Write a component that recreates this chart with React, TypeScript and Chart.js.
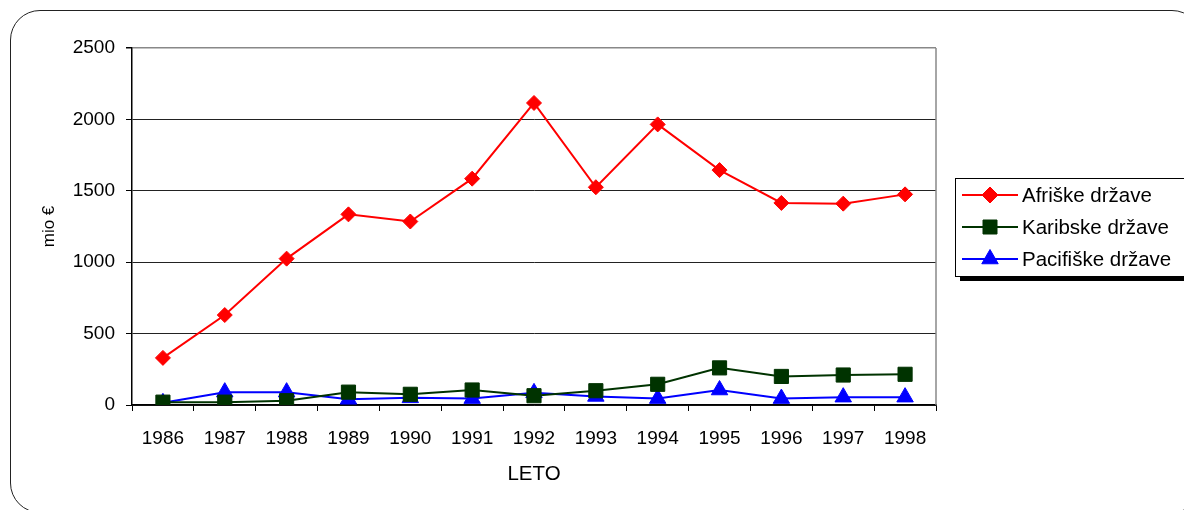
import React, { useEffect, useRef } from 'react';
import { Chart, registerables } from 'chart.js';

Chart.register(...registerables);

const years = ['1986', '1987', '1988', '1989', '1990', '1991', '1992', '1993', '1994', '1995', '1996', '1997', '1998'];
const afriske = [330, 630, 1025, 1335, 1285, 1585, 2115, 1525, 1965, 1645, 1415, 1410, 1475];
const karibske = [20, 20, 30, 90, 75, 105, 65, 100, 145, 260, 200, 210, 215];
const pacifiske = [15, 90, 90, 40, 50, 45, 85, 60, 45, 105, 45, 55, 55];
const seriesNames = ['Afriške države', 'Karibske države', 'Pacifiške države'];
const seriesColors = ['#ff0000', '#003300', '#0000ff'];
const seriesShapes = ['rectRot', 'rect', 'triangle'];
const yMin = 0;
const yMax = 2500;
const yStep = 500;
const xTitle = 'LETO';
const yTitle = 'mio €';

const FONT = '"Liberation Sans", Arial, sans-serif';

function drawMarker(ctx: CanvasRenderingContext2D, shape: string, x: number, y: number, color: string) {
  ctx.save();
  ctx.fillStyle = color;
  ctx.strokeStyle = color;
  ctx.lineWidth = 1;
  ctx.beginPath();
  if (shape === 'rectRot') {
    const r = 8;
    ctx.moveTo(x, y - r);
    ctx.lineTo(x + r, y);
    ctx.lineTo(x, y + r);
    ctx.lineTo(x - r, y);
    ctx.closePath();
  } else if (shape === 'rect') {
    const h = 7;
    ctx.rect(x - h, y - h, 2 * h, 2 * h);
  } else {
    const r = 9.5;
    ctx.moveTo(x, y - r);
    ctx.lineTo(x + r * 0.866, y + r / 2);
    ctx.lineTo(x - r * 0.866, y + r / 2);
    ctx.closePath();
  }
  ctx.fill();
  ctx.stroke();
  ctx.restore();
}

const framePlugin = {
  id: 'frameAndLegend',
  afterDraw(chart: any) {
    const ctx: CanvasRenderingContext2D = chart.ctx;
    const a = chart.chartArea;
    ctx.save();
    // right border of plot area
    ctx.strokeStyle = '#888888';
    ctx.lineWidth = 1.5;
    ctx.beginPath();
    ctx.moveTo(a.right, a.top);
    ctx.lineTo(a.right, a.bottom);
    ctx.stroke();

    // legend box with shadow
    const lx = 955, ly = 178, lw = 240, lh = 98;
    ctx.fillStyle = '#000';
    ctx.fillRect(lx + 5, ly + 5, lw, lh);
    ctx.fillStyle = '#fff';
    ctx.fillRect(lx, ly, lw, lh);
    ctx.strokeStyle = '#000';
    ctx.lineWidth = 1;
    ctx.strokeRect(lx + 0.5, ly + 0.5, lw, lh);

    const rows = [195, 227, 259];
    ctx.font = `20.5px ${FONT}`;
    ctx.textBaseline = 'middle';
    ctx.textAlign = 'left';
    seriesNames.forEach((name, i) => {
      const y = rows[i];
      ctx.strokeStyle = seriesColors[i];
      ctx.lineWidth = 2;
      ctx.beginPath();
      ctx.moveTo(962, y);
      ctx.lineTo(1018, y);
      ctx.stroke();
      drawMarker(ctx, seriesShapes[i], 990, y, seriesColors[i]);
      ctx.fillStyle = '#000';
      ctx.fillText(name, 1022, y + 1);
    });
    ctx.restore();
  },
};

export default function App() {
  const ref = useRef<HTMLCanvasElement | null>(null);

  useEffect(() => {
    if (!ref.current) return;
    const data = [afriske, karibske, pacifiske];
    const chart = new Chart(ref.current, {
      type: 'line',
      data: {
        labels: years,
        datasets: seriesNames.map((name, i) => ({
          label: name,
          data: data[i],
          borderColor: seriesColors[i],
          backgroundColor: seriesColors[i],
          borderWidth: 2,
          pointStyle: seriesShapes[i] as any,
          pointRadius: i === 0 ? 7.5 : i === 1 ? 10 : 9.5,
          pointBorderWidth: 1,
          pointBackgroundColor: seriesColors[i],
          pointBorderColor: seriesColors[i],
          tension: 0,
          fill: false,
        })),
      },
      options: {
        responsive: false,
        animation: false,
        devicePixelRatio: 1,
        layout: { padding: { left: 0, top: 48, right: 248, bottom: 0 } },
        plugins: {
          legend: { display: false },
          tooltip: { enabled: false },
        },
        scales: {
          x: {
            offset: true,
            grid: {
              offset: true,
              drawOnChartArea: false,
              drawTicks: true,
              tickLength: 6,
              color: '#000',
              tickColor: '#000',
            },
            border: { display: true, color: '#000', width: 1.5 },
            ticks: {
              color: '#000',
              padding: 16,
              maxRotation: 0,
              autoSkip: false,
              font: { family: FONT, size: 19 },
            },
            title: {
              display: true,
              text: xTitle,
              color: '#000',
              font: { family: FONT, size: 20.5 },
              padding: { top: 4, bottom: 23 },
            },
            afterFit: (s: any) => {
              s.height = 105;
            },
          },
          y: {
            min: yMin,
            max: yMax,
            grid: {
              color: (c: any) => (c.tick && c.tick.value === yMax ? '#888888' : '#222222'),
              lineWidth: (c: any) => (c.tick && c.tick.value === yMax ? 1.5 : 1),
              tickColor: '#000',
              drawTicks: true,
              tickLength: 6,
            },
            border: { display: true, color: '#000', width: 1.5 },
            ticks: {
              stepSize: yStep,
              color: '#000',
              padding: 11,
              font: { family: FONT, size: 19 },
              callback: (v: any) => String(v),
            },
            title: {
              display: true,
              text: yTitle,
              color: '#000',
              font: { family: FONT, size: 17 },
              padding: { top: 39, bottom: 0 },
            },
            afterFit: (s: any) => {
              s.width = 132;
            },
          },
        },
      },
      plugins: [framePlugin],
    });
    return () => chart.destroy();
  }, []);

  return (
    <div
      style={{
        position: 'fixed',
        left: 0,
        top: 0,
        width: 1184,
        height: 510,
        overflow: 'hidden',
        background: '#fff',
      }}
    >
      <div
        style={{
          position: 'absolute',
          left: 10,
          top: 10,
          width: 1192,
          height: 503,
          border: '1.5px solid #222',
          borderRadius: 30,
          boxSizing: 'border-box',
        }}
      />
      <canvas
        ref={ref}
        width={1184}
        height={510}
        style={{ position: 'absolute', left: 0, top: 0, width: 1184, height: 510 }}
      />
    </div>
  );
}
